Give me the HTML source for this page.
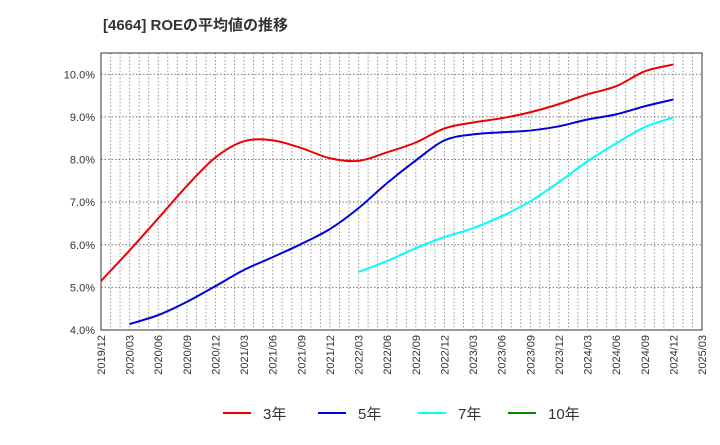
<!DOCTYPE html>
<html><head><meta charset="utf-8"><style>
body{margin:0;background:#fff;font-family:"Liberation Sans","Noto Sans CJK JP",sans-serif;}
</style></head><body>
<svg width="720" height="440" xmlns="http://www.w3.org/2000/svg" font-family="Liberation Sans, Noto Sans CJK JP, sans-serif">
<text x="103" y="30" font-size="15" font-weight="bold" fill="#333">[4664]  ROEの平均値の推移</text>
<g id="grid"></g>
<g id="series"></g>
<rect x="101" y="53" width="601" height="277" fill="none" stroke="#333" stroke-width="1"/>
<g id="yaxis"></g><g id="xaxis"></g>
<g font-size="15" fill="#333">
<line x1="223" y1="413" x2="251" y2="413" stroke="#e00" stroke-width="2"/><text x="263" y="419">3年</text>
<line x1="318" y1="413" x2="346" y2="413" stroke="#00d" stroke-width="2"/><text x="358" y="419">5年</text>
<line x1="418" y1="413" x2="446" y2="413" stroke="#0ff" stroke-width="2"/><text x="458" y="419">7年</text>
<line x1="508" y1="413" x2="536" y2="413" stroke="#080" stroke-width="2"/><text x="548" y="419">10年</text>
</g>
</svg>
<script>
const xLabels=["2019/12","2020/03","2020/06","2020/09","2020/12","2021/03","2021/06","2021/09","2021/12","2022/03","2022/06","2022/09","2022/12","2023/03","2023/06","2023/09","2023/12","2024/03","2024/06","2024/09","2024/12","2025/03"];
const yTicks=[4,5,6,7,8,9,10];
const roe3=[5.15,5.87,6.62,7.38,8.05,8.43,8.45,8.27,8.03,7.97,8.17,8.40,8.73,8.87,8.97,9.11,9.30,9.53,9.72,10.07,10.23];
const roe5=[null,4.14,4.35,4.66,5.03,5.41,5.71,6.02,6.37,6.86,7.45,7.98,8.45,8.59,8.64,8.68,8.78,8.94,9.06,9.25,9.41];
const roe7=[null,null,null,null,null,null,null,null,null,5.36,5.62,5.92,6.18,6.39,6.67,7.02,7.47,7.96,8.38,8.76,8.99];
const roe10=[];
const NS="http://www.w3.org/2000/svg";
const L=101,R=702,T=53,B=330,yMin=4,yMax=10.5;
const xs=i=>L+i*(R-L)/(xLabels.length-1);
const ys=v=>B-(v-yMin)/(yMax-yMin)*(B-T);
function mk(t,a,p){const e=document.createElementNS(NS,t);for(const k in a)e.setAttribute(k,a[k]);p.appendChild(e);return e;}
const grid=document.getElementById('grid');
const nMonths=(xLabels.length-1)*3;
for(let m=1;m<nMonths;m++){const x=L+m*(R-L)/nMonths;
const g=mk('line',{x1:x,x2:x,y1:T,y2:B,stroke:'#999','stroke-dasharray':'1.5,2','stroke-width':1},grid);

}
yTicks.slice(1).forEach(v=>{const y=ys(v);
const g=mk('line',{x1:L,x2:R,y1:y,y2:y,stroke:'#777','stroke-dasharray':'1.5,2','stroke-width':1},grid);

});
const ya=document.getElementById('yaxis');
yTicks.forEach(v=>{const t=mk('text',{x:L-6,y:ys(v)+4,'text-anchor':'end','font-size':11,fill:'#333'},ya);t.textContent=v.toFixed(1)+'%';

});
const xa=document.getElementById('xaxis');
xLabels.forEach((s,i)=>{const x=xs(i)+4,y=B+5;const t=mk('text',{x:x,y:y,'text-anchor':'end','font-size':11,fill:'#333',transform:`rotate(-90 ${x} ${y})`},xa);t.textContent=s;

});
function path(arr){const p=[];arr.forEach((v,i)=>{if(v!=null)p.push([xs(i),ys(v)]);});if(p.length<2)return '';
let d=`M${p[0][0]},${p[0][1]}`;for(let i=0;i<p.length-1;i++){const p0=p[i-1]||p[i],p1=p[i],p2=p[i+1],p3=p[i+2]||p2;
d+=` C${p1[0]+(p2[0]-p0[0])/6},${p1[1]+(p2[1]-p0[1])/6} ${p2[0]-(p3[0]-p1[0])/6},${p2[1]-(p3[1]-p1[1])/6} ${p2[0]},${p2[1]}`;}return d;}
const sg=document.getElementById('series');
[[roe3,'#e00','line-3yr'],[roe5,'#00d','line-5yr'],[roe7,'#0ff','line-7yr'],[roe10,'#080','line-10yr']].forEach(([a,c,n])=>{const d=path(a);if(!d)return;
const e=mk('path',{d:d,fill:'none',stroke:c,'stroke-width':2},sg);

});
</script>
</body></html>
